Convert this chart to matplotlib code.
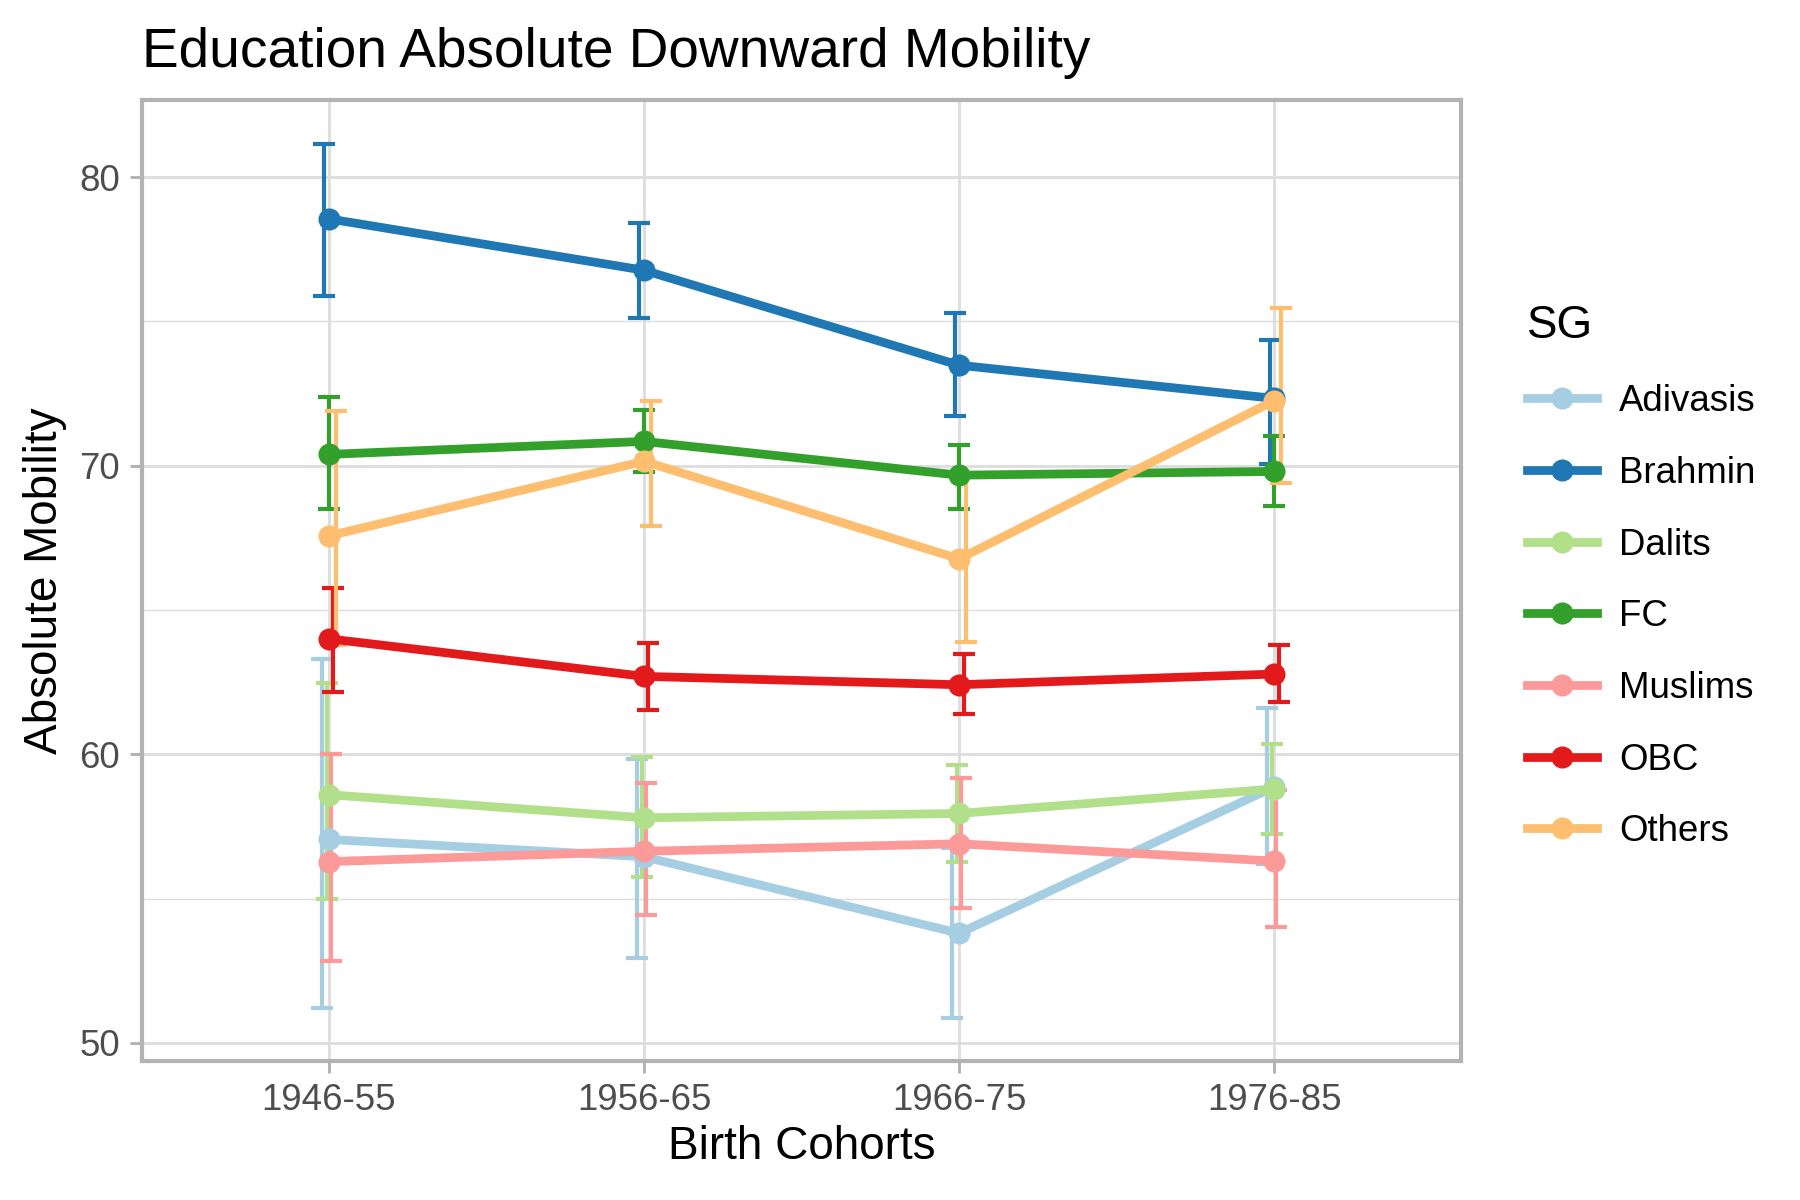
import numpy as np
import matplotlib.pyplot as plt
from matplotlib.lines import Line2D

plt.rcParams['font.family'] = ['Liberation Sans', 'DejaVu Sans']

# данные
cohorts = ['1946-55', '1956-65', '1966-75', '1976-85']
groups = ['Adivasis', 'Brahmin', 'Dalits', 'FC', 'Muslims', 'OBC', 'Others']
colors = ['#A6CEE3', '#1F78B4', '#B2DF8A', '#33A02C', '#FB9A99', '#E31A1C', '#FDBF6F']

adivasis = [57.05, 56.45, 53.8, 58.87]
adivasis_lo = [51.2, 52.95, 50.85, 56.2]
adivasis_hi = [63.3, 59.85, 56.75, 61.6]

brahmin = [78.55, 76.77, 73.48, 72.33]
brahmin_lo = [75.88, 75.1, 71.73, 70.05]
brahmin_hi = [81.15, 78.42, 75.3, 74.37]

dalits = [58.6, 57.8, 57.95, 58.8]
dalits_lo = [54.97, 55.76, 56.26, 57.24]
dalits_hi = [62.46, 59.89, 59.64, 60.36]

fc = [70.39, 70.84, 69.67, 69.8]
fc_lo = [68.5, 69.78, 68.51, 68.61]
fc_hi = [72.37, 71.93, 70.73, 71.04]

muslims = [56.28, 56.64, 56.9, 56.3]
muslims_lo = [52.85, 54.43, 54.67, 54.0]
muslims_hi = [60.0, 58.99, 59.18, 58.75]

obc = [64.0, 62.7, 62.41, 62.78]
obc_lo = [62.16, 61.52, 61.39, 61.8]
obc_hi = [65.77, 63.87, 63.49, 63.79]

others = [67.57, 70.15, 66.77, 72.25]
others_lo = [63.79, 67.9, 63.9, 69.39]
others_hi = [71.91, 72.25, 69.64, 75.45]

means = [adivasis, brahmin, dalits, fc, muslims, obc, others]
lows = [adivasis_lo, brahmin_lo, dalits_lo, fc_lo, muslims_lo, obc_lo, others_lo]
highs = [adivasis_hi, brahmin_hi, dalits_hi, fc_hi, muslims_hi, obc_hi, others_hi]

fig = plt.figure(figsize=(6, 4), dpi=300)
ax = fig.add_axes([0.0789, 0.1155, 0.7328, 0.8012])

x = np.arange(len(cohorts))
dodge = 0.05 / len(groups)

# сначала error bars
for i in range(len(groups)):
    m = np.array(means[i])
    lo = np.array(lows[i])
    hi = np.array(highs[i])
    xs = x + (i - 3) * dodge
    ax.errorbar(xs, m, yerr=[m - lo, hi - m], fmt='none', ecolor=colors[i],
                elinewidth=1.0, capsize=2.7, capthick=1.0, zorder=2)

for i in range(len(groups)):
    ax.plot(x, means[i], color=colors[i], linewidth=2.1, zorder=3,
            solid_capstyle='butt')
for i in range(len(groups)):
    ax.plot(x, means[i], 'o', color=colors[i], markersize=4.3, zorder=4)

ax.set_xlim(-0.593, 3.593)
ax.set_ylim(49.36, 82.67)
ax.set_xticks(x)
ax.set_xticklabels(cohorts)
ax.set_yticks([50, 60, 70, 80])
ax.set_yticks([55, 65, 75], minor=True)

ax.grid(True, which='major', color='#DEDEDE', linewidth=0.7)
ax.grid(True, which='minor', axis='y', color='#DEDEDE', linewidth=0.35)
ax.set_axisbelow(True)
for s in ax.spines.values():
    s.set_color('#B3B3B3')
    s.set_linewidth(1.0)
ax.tick_params(which='major', length=2.9, width=0.7, color='#B3B3B3',
               labelsize=8.8, labelcolor='#4D4D4D', pad=2.4)
ax.tick_params(which='minor', length=0)

ax.set_xlabel('Birth Cohorts', fontsize=11, labelpad=1.5)
ax.set_ylabel('Absolute Mobility', fontsize=11, labelpad=3)
ax.set_title('Education Absolute Downward Mobility', loc='left', fontsize=13.2, pad=8)

handles = []
for i in range(len(groups)):
    handles.append(Line2D([0], [0], color=colors[i], linewidth=2.1, marker='o',
                          markersize=4.3))
leg = fig.legend(handles, groups, loc='upper left', bbox_to_anchor=(0.8485, 0.747),
                 frameon=False, title='SG', fontsize=8.8, title_fontsize=11,
                 handlelength=1.9, handletextpad=0.6, labelspacing=1.0,
                 borderpad=0, borderaxespad=0)
leg._legend_box.align = 'left'

fig.savefig('out.png', dpi=300)
